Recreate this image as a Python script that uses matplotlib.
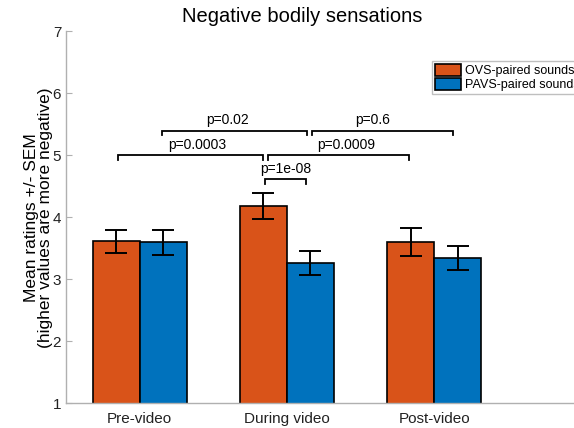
import matplotlib
matplotlib.use("Agg")
import matplotlib.pyplot as plt
import numpy as np

plt.rcParams["font.family"] = ["Liberation Sans", "DejaVu Sans"]

groups = ["Pre-video", "During video", "Post-video"]
ovs_mean = [3.61, 4.18, 3.60]
ovs_sem = [0.18, 0.21, 0.22]
pavs_mean = [3.60, 3.26, 3.34]
pavs_sem = [0.20, 0.19, 0.19]

# comparisons: (x start, x end, bracket height, label)
brackets = [
    (0.855, 1.84, 5.0, "p=0.0003"),
    (1.87, 2.83, 5.0, "p=0.0009"),
    (1.155, 2.135, 5.4, "p=0.02"),
    (2.17, 3.13, 5.4, "p=0.6"),
    (1.852, 2.131, 4.62, "p=1e-08"),
]
label_x = [1.39, 2.40, 1.60, 2.58, 1.99]

ovs_color = "#D95319"
pavs_color = "#0072BD"
spine_gray = "#b0b0b0"

fig = plt.figure(figsize=(5.74, 4.28), dpi=100)
ax = fig.add_axes([66 / 574, 24.7 / 428, 589 / 574, 372 / 428])

x = np.arange(1, len(groups) + 1)
w = 0.32
b1 = ax.bar(x - w / 2, ovs_mean, w, color=ovs_color, edgecolor="black",
            linewidth=1.2, label="OVS-paired sounds")
b2 = ax.bar(x + w / 2, pavs_mean, w, color=pavs_color, edgecolor="black",
            linewidth=1.2, label="PAVS-paired sounds")
ax.errorbar(x - w / 2, ovs_mean, yerr=ovs_sem, fmt="none", ecolor="black",
            elinewidth=1.4, capsize=8, capthick=1.4)
ax.errorbar(x + w / 2, pavs_mean, yerr=pavs_sem, fmt="none", ecolor="black",
            elinewidth=1.4, capsize=8, capthick=1.4)

for (x0, x1, h, lab), lx in zip(brackets, label_x):
    drop = 0.075
    ax.plot([x0, x0, x1, x1], [h - drop, h, h, h - drop], color="black",
            linewidth=1.3, solid_joinstyle="miter")
    ax.text(lx, h + 0.05, lab, ha="center", va="bottom", fontsize=10)

ax.set_xlim(0.5, 4.5)
ax.set_ylim(1, 7)
ax.set_yticks(range(1, 8))
ax.set_xticks(x)
ax.set_xticklabels(groups, fontsize=11)
ax.tick_params(axis="y", labelsize=11, direction="in", length=4,
               color=spine_gray, labelcolor="#222222")
ax.tick_params(axis="x", direction="in", length=0, labelcolor="#222222", pad=6)
for s in ["top", "right"]:
    ax.spines[s].set_visible(False)
for s in ["left", "bottom"]:
    ax.spines[s].set_color(spine_gray)
    ax.spines[s].set_linewidth(1.0)

fig.text(38.5 / 574, 1 - 217.5 / 428,
         "Mean ratings +/- SEM\n(higher values are more negative)",
         rotation=90, ha="center", va="center", fontsize=12.5,
         linespacing=0.95, multialignment="center")

fig.text(301.7 / 574, 1 - 16.5 / 428, "Negative bodily sensations",
         ha="center", va="center", fontsize=14.5)

leg = fig.legend(handles=[b1, b2], loc="upper left",
                 bbox_to_anchor=(432 / 574, 1 - 61 / 428), fontsize=9,
                 frameon=True, fancybox=False, handlelength=2.1,
                 handleheight=1.1, handletextpad=0.3, borderpad=0.25,
                 labelspacing=0.05, borderaxespad=0)
leg.get_frame().set_edgecolor(spine_gray)
leg.get_frame().set_linewidth(1.0)

fig.savefig("out.png", dpi=100)
